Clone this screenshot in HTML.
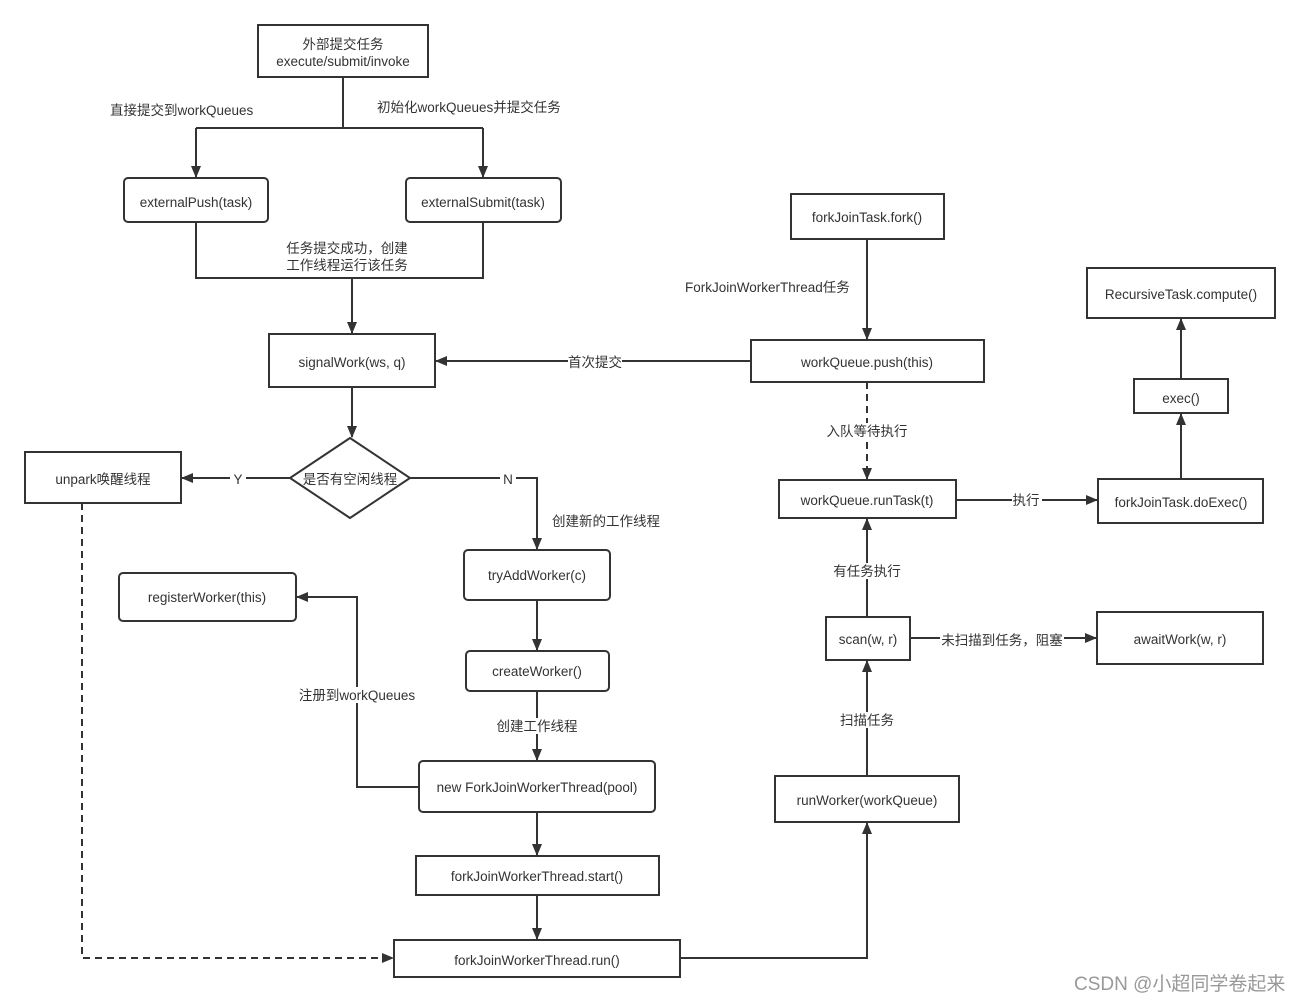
<!DOCTYPE html>
<html><head><meta charset="utf-8"><style>
html,body{margin:0;padding:0;background:#fff;}
svg text{font-family:"Liberation Sans","Noto Sans CJK SC",sans-serif;font-size:13.5px;fill:#333;}
</style></head><body>
<svg width="1300" height="1002" viewBox="0 0 1300 1002" xmlns="http://www.w3.org/2000/svg">
<defs>
<marker id="a" markerWidth="12" markerHeight="12" refX="11" refY="6" orient="auto" markerUnits="userSpaceOnUse">
<path d="M0,1 L12,6 L0,11 Z" fill="#333"/></marker>
</defs>
<g fill="none" stroke="#333" stroke-width="2">
<rect x="258" y="25" width="170" height="52"/>
<rect x="124" y="178" width="144" height="44" rx="4"/>
<rect x="406" y="178" width="155" height="44" rx="4"/>
<rect x="269" y="334" width="166" height="53"/>
<path d="M350,438 L410,478 L350,518 L290,478 Z"/>
<rect x="25" y="452" width="156" height="51"/>
<rect x="464" y="550" width="146" height="50" rx="4"/>
<rect x="119" y="573" width="177" height="48" rx="4"/>
<rect x="466" y="651" width="143" height="40" rx="4"/>
<rect x="419" y="761" width="236" height="51" rx="4"/>
<rect x="416" y="856" width="243" height="39"/>
<rect x="394" y="940" width="286" height="37"/>
<rect x="791" y="194" width="153" height="45"/>
<rect x="751" y="340" width="233" height="42"/>
<rect x="779" y="480" width="177" height="38"/>
<rect x="1098" y="479" width="165" height="44"/>
<rect x="1134" y="379" width="94" height="34"/>
<rect x="1087" y="268" width="188" height="50"/>
<rect x="826" y="617" width="84" height="43"/>
<rect x="1097" y="612" width="166" height="52"/>
<rect x="775" y="776" width="184" height="46"/>
<path d="M343,77 V128"/>
<path d="M196,128 H483"/>
<path d="M196,128 V177" marker-end="url(#a)"/>
<path d="M483,128 V177" marker-end="url(#a)"/>
<path d="M196,222 V278 H483 V222"/>
<path d="M352,278 V333" marker-end="url(#a)"/>
<path d="M352,387 V437" marker-end="url(#a)"/>
<path d="M290,478 H182" marker-end="url(#a)"/>
<path d="M410,478 H537 V549" marker-end="url(#a)"/>
<path d="M537,600 V650" marker-end="url(#a)"/>
<path d="M537,691 V760" marker-end="url(#a)"/>
<path d="M419,787 H357 V597 H297" marker-end="url(#a)"/>
<path d="M537,812 V855" marker-end="url(#a)"/>
<path d="M537,895 V939" marker-end="url(#a)"/>
<path d="M82,503 V958 H393" stroke-dasharray="7,5" marker-end="url(#a)"/>
<path d="M680,958 H867 V823" marker-end="url(#a)"/>
<path d="M867,776 V661" marker-end="url(#a)"/>
<path d="M910,638 H1096" marker-end="url(#a)"/>
<path d="M867,617 V519" marker-end="url(#a)"/>
<path d="M867,239 V339" marker-end="url(#a)"/>
<path d="M751,361 H436" marker-end="url(#a)"/>
<path d="M867,382 V479" stroke-dasharray="7,5" marker-end="url(#a)"/>
<path d="M956,500 H1097" marker-end="url(#a)"/>
<path d="M1181,479 V414" marker-end="url(#a)"/>
<path d="M1181,379 V319" marker-end="url(#a)"/>
</g>
<g fill="#fff">
<rect x="568" y="354" width="54" height="16"/>
<rect x="230" y="471" width="16" height="15"/>
<rect x="500" y="471" width="16" height="15"/>
<rect x="1012" y="492" width="30" height="16"/>
<rect x="829" y="423" width="78" height="16"/>
<rect x="834" y="563" width="66" height="16"/>
<rect x="940" y="631" width="124" height="16"/>
<rect x="840" y="712" width="54" height="16"/>
<rect x="497" y="718" width="80" height="16"/>
<rect x="298" y="687" width="118" height="16"/>
</g>
<g text-anchor="middle">
<text x="343" y="49">外部提交任务</text>
<text x="343" y="66">execute/submit/invoke</text>
<text x="196" y="207">externalPush(task)</text>
<text x="483" y="207">externalSubmit(task)</text>
<text x="352" y="367">signalWork(ws, q)</text>
<text x="350" y="484">是否有空闲线程</text>
<text x="103" y="484">unpark唤醒线程</text>
<text x="537" y="580">tryAddWorker(c)</text>
<text x="207" y="602">registerWorker(this)</text>
<text x="537" y="676">createWorker()</text>
<text x="537" y="792">new ForkJoinWorkerThread(pool)</text>
<text x="537" y="881">forkJoinWorkerThread.start()</text>
<text x="537" y="965">forkJoinWorkerThread.run()</text>
<text x="867" y="222">forkJoinTask.fork()</text>
<text x="867" y="367">workQueue.push(this)</text>
<text x="867" y="505">workQueue.runTask(t)</text>
<text x="1181" y="507">forkJoinTask.doExec()</text>
<text x="1181" y="403">exec()</text>
<text x="1181" y="299">RecursiveTask.compute()</text>
<text x="868" y="644">scan(w, r)</text>
<text x="1180" y="644">awaitWork(w, r)</text>
<text x="867" y="805">runWorker(workQueue)</text>
<text x="347" y="253">任务提交成功，创建</text>
<text x="347" y="270">工作线程运行该任务</text>
<text x="595" y="367">首次提交</text>
<text x="238" y="484">Y</text>
<text x="508" y="484">N</text>
<text x="1026" y="505">执行</text>
<text x="867" y="436">入队等待执行</text>
<text x="867" y="576">有任务执行</text>
<text x="1002" y="645">未扫描到任务，阻塞</text>
<text x="867" y="725">扫描任务</text>
<text x="537" y="731">创建工作线程</text>
<text x="357" y="700">注册到workQueues</text>
</g>
<text x="110" y="115">直接提交到workQueues</text>
<text x="377" y="112">初始化workQueues并提交任务</text>
<text x="685" y="292">ForkJoinWorkerThread任务</text>
<text x="552" y="526">创建新的工作线程</text>
<text x="1074" y="990" style="font-size:19px;fill:#999">CSDN @小超同学卷起来</text>
</svg>
</body></html>
